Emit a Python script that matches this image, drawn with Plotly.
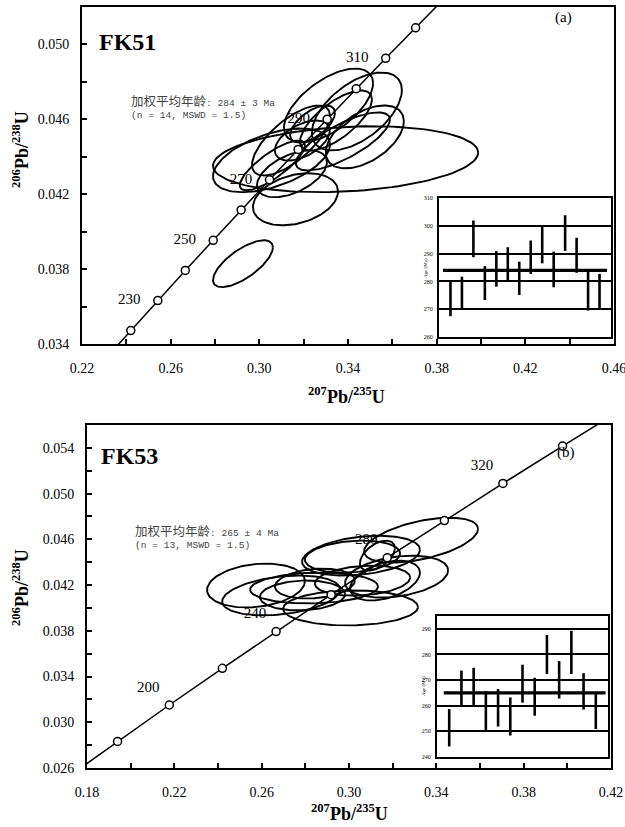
import numpy as np
import plotly.graph_objects as go

# ---------------- data: panel (a) FK51 ----------------
conc_a_age = [210, 220, 230, 240, 250, 260, 270, 280, 290, 300, 310, 320, 330]
conc_a_x = [0.2298, 0.2420, 0.2542, 0.2666, 0.2792, 0.2918, 0.3046, 0.3175, 0.3306, 0.3437, 0.3570, 0.3705, 0.3840]
conc_a_y = [0.03311, 0.03472, 0.03632, 0.03793, 0.03954, 0.04116, 0.04277, 0.04439, 0.04601, 0.04764, 0.04926, 0.05089, 0.05252]
conc_a_marked = [220, 230, 240, 250, 260, 270, 280, 290, 300, 310, 320]
conc_a_labels = [230, 250, 270, 290, 310]
xticks_a = [0.22, 0.26, 0.30, 0.34, 0.38, 0.42, 0.46]
yticks_a = [0.034, 0.038, 0.042, 0.046, 0.050]

ell_a_cx = [0.3389, 0.3312, 0.3440, 0.3476, 0.3346, 0.3240, 0.3143, 0.3055, 0.3147, 0.3163, 0.2926, 0.3059, 0.3377, 0.3194]
ell_a_cy = [0.04387, 0.04674, 0.04642, 0.04506, 0.04594, 0.04575, 0.04487, 0.04381, 0.04309, 0.04173, 0.03829, 0.04354, 0.04482, 0.04487]
ell_a_sx = [0.0598, 0.0201, 0.0203, 0.0176, 0.0162, 0.0101, 0.0176, 0.0264, 0.0158, 0.0192, 0.0135, 0.0147, 0.0212, 0.0124]
ell_a_sy = [0.00176, 0.00197, 0.00208, 0.00168, 0.00160, 0.00099, 0.00187, 0.00170, 0.00125, 0.00139, 0.00125, 0.00133, 0.00155, 0.00107]
ell_a_rho = [0.2, 0.6, 0.55, 0.5, 0.7, 0.6, 0.7, 0.5, 0.5, 0.3, 0.7, 0.8, 0.75, 0.5]

inset_a_age = [274.0, 275.9, 295.3, 279.4, 284.5, 286.3, 281.1, 288.7, 293.1, 284.3, 297.4, 289.4, 276.8, 276.5]
inset_a_err = [6.5, 5.8, 6.6, 6.1, 6.4, 6.0, 6.0, 6.0, 6.6, 6.4, 6.4, 6.3, 7.3, 6.2]
mean_a = 284
inset_a_ticks = [260, 270, 280, 290, 300, 310]

# ---------------- data: panel (b) FK53 ----------------
conc_b_age = [160, 180, 200, 220, 240, 260, 280, 300, 320, 340, 360]
conc_b_x = [0.1707, 0.1940, 0.2177, 0.2420, 0.2666, 0.2918, 0.3175, 0.3437, 0.3705, 0.3978, 0.4256]
conc_b_y = [0.02513, 0.02832, 0.03151, 0.03472, 0.03793, 0.04116, 0.04439, 0.04764, 0.05089, 0.05416, 0.05743]
conc_b_marked = [180, 200, 220, 240, 260, 280, 300, 320, 340]
conc_b_labels = [200, 240, 280, 320]
xticks_b = [0.18, 0.22, 0.26, 0.30, 0.34, 0.38, 0.42]
yticks_b = [0.026, 0.030, 0.034, 0.038, 0.042, 0.046, 0.050, 0.054]

ell_b_cx = [0.3330, 0.3055, 0.3016, 0.3218, 0.3165, 0.2840, 0.2844, 0.2574, 0.2689, 0.3007, 0.2787, 0.3062, 0.3130]
ell_b_cy = [0.04593, 0.04457, 0.04449, 0.04274, 0.04239, 0.04174, 0.04213, 0.04196, 0.04109, 0.04000, 0.04109, 0.04239, 0.04457]
ell_b_sx = [0.0261, 0.0270, 0.0218, 0.0236, 0.0160, 0.0293, 0.0183, 0.0224, 0.0270, 0.0309, 0.0195, 0.0218, 0.0080]
ell_b_sy = [0.00196, 0.00174, 0.00140, 0.00183, 0.00174, 0.00135, 0.00131, 0.00192, 0.00174, 0.00153, 0.00131, 0.00131, 0.00131]
ell_b_rho = [0.5, 0.3, 0.2, 0.3, 0.4, 0.1, 0.2, 0.2, 0.3, 0.05, 0.1, 0.2, 0.5]

inset_b_age = [251.4, 266.6, 267.3, 257.8, 259.2, 255.8, 268.6, 263.5, 280.0, 270.1, 280.8, 265.6, 257.7]
inset_b_err = [7.3, 7.1, 7.5, 7.9, 7.3, 7.4, 7.4, 7.4, 7.6, 7.3, 8.4, 7.1, 6.8]
mean_b = 265
inset_b_ticks = [240, 250, 260, 270, 280, 290]

SERIF = "Liberation Serif"
W, H = 625, 827


def px(x):
    return x / W


def py(y):
    return 1 - y / H


def ellipse_path(cx, cy, sx, sy, rho):
    t = np.linspace(0, 2 * np.pi, 120)
    xs, ys = [], []
    for a, b, c, d, r in zip(cx, cy, sx, sy, rho):
        xs += list(a + c * np.cos(t)) + [None]
        ys += list(b + d * (r * np.cos(t) + np.sqrt(1 - r * r) * np.sin(t))) + [None]
    return xs, ys


fig = go.Figure()


def add_panel(cx, cy, sx, sy, rho, cage, cxv, cyv, marked, labels, xa, ya, tpos, gap):
    ex, ey = ellipse_path(cx, cy, sx, sy, rho)
    fig.add_trace(go.Scatter(x=ex, y=ey, mode="lines", line=dict(color="black", width=1.9),
                             xaxis=xa, yaxis=ya, hoverinfo="skip"))
    fig.add_trace(go.Scatter(x=cxv, y=cyv, mode="lines", line=dict(color="black", width=1.5),
                             xaxis=xa, yaxis=ya, hoverinfo="skip"))
    mx = [x for a, x in zip(cage, cxv) if a in marked]
    my = [y for a, y in zip(cage, cyv) if a in marked]
    fig.add_trace(go.Scatter(x=mx, y=my, mode="markers",
                             marker=dict(symbol="circle", size=8, color="white",
                                         line=dict(color="black", width=1.5)),
                             xaxis=xa, yaxis=ya, cliponaxis=True, hoverinfo="skip"))
    lx = [x for a, x in zip(cage, cxv) if a in labels]
    ly = [y for a, y in zip(cage, cyv) if a in labels]
    lt = [str(a) for a in cage if a in labels]
    fig.add_trace(go.Scatter(x=lx, y=ly, mode="markers+text", text=lt, textposition=tpos,
                             textfont=dict(family=SERIF, size=15, color="black"),
                             marker=dict(size=gap, color="rgba(0,0,0,0)", line=dict(width=0)),
                             xaxis=xa, yaxis=ya, cliponaxis=False, hoverinfo="skip"))


add_panel(ell_a_cx, ell_a_cy, ell_a_sx, ell_a_sy, ell_a_rho, conc_a_age, conc_a_x, conc_a_y,
          conc_a_marked, conc_a_labels, "x", "y", "middle left", 26)
add_panel(ell_b_cx, ell_b_cy, ell_b_sx, ell_b_sy, ell_b_rho, conc_b_age, conc_b_x, conc_b_y,
          conc_b_marked, conc_b_labels, "x2", "y2", "top left", 14)


def add_inset(ages, errs, mean, xa, ya, x0, x1):
    idx = list(range(1, len(ages) + 1))
    fig.add_trace(go.Scatter(x=[x0, x1], y=[mean, mean], mode="lines",
                             line=dict(color="black", width=3.2), xaxis=xa, yaxis=ya, hoverinfo="skip"))
    fig.add_trace(go.Scatter(x=idx, y=ages, mode="markers",
                             marker=dict(size=1, color="rgba(0,0,0,0)"),
                             error_y=dict(type="data", array=errs, symmetric=True, width=0,
                                          thickness=2.6, color="black"),
                             xaxis=xa, yaxis=ya, hoverinfo="skip"))


add_inset(inset_a_age, inset_a_err, mean_a, "x3", "y3", 0.35, 14.65)
add_inset(inset_b_age, inset_b_err, mean_b, "x4", "y4", 0.55, 13.8)

main_ax = dict(showline=True, linecolor="black", linewidth=2, mirror=True, ticks="inside",
               ticklen=5, tickwidth=1.5, tickcolor="black", showgrid=False, zeroline=False,
               automargin=False, ticklabeloverflow="allow",
               tickfont=dict(family=SERIF, size=14, color="black"))

fig.update_layout(
    template="none",
    width=W, height=H, margin=dict(l=0, r=0, t=0, b=0, pad=0), showlegend=False,
    paper_bgcolor="white", plot_bgcolor="white",
    xaxis=dict(main_ax, domain=[px(82), px(614)], range=[0.22, 0.46], tickvals=xticks_a,
               ticktext=["%.2f" % v for v in xticks_a], anchor="y", ticklabelstandoff=10,
               minor=dict(ticks="inside", tick0=0.22, dtick=0.02, ticklen=5, tickwidth=1.5, tickcolor="black")),
    yaxis=dict(main_ax, domain=[py(344), py(7)], range=[0.034, 0.052], tickvals=yticks_a,
               ticktext=["%.3f" % v for v in yticks_a], anchor="x", ticklabelstandoff=8,
               minor=dict(ticks="inside", tick0=0.034, dtick=0.002, ticklen=5, tickwidth=1.5, tickcolor="black")),
    xaxis2=dict(main_ax, domain=[px(87), px(611)], range=[0.18, 0.42], tickvals=xticks_b,
                ticktext=["%.2f" % v for v in xticks_b], anchor="y2", ticklabelstandoff=10,
                minor=dict(ticks="inside", tick0=0.18, dtick=0.02, ticklen=5, tickwidth=1.5, tickcolor="black")),
    yaxis2=dict(main_ax, domain=[py(768), py(425)], range=[0.026, 0.056], tickvals=yticks_b,
                ticktext=["%.3f" % v for v in yticks_b], anchor="x2", ticklabelstandoff=8,
                minor=dict(ticks="inside", tick0=0.026, dtick=0.002, ticklen=5, tickwidth=1.5, tickcolor="black")),
)

inset_x = dict(showline=True, linecolor="black", linewidth=2, mirror=True, ticks="",
               showticklabels=False, showgrid=False, zeroline=False, automargin=False)
inset_y = dict(showline=True, linecolor="black", linewidth=2, mirror=True, ticks="",
               showgrid=True, gridcolor="black", gridwidth=1.6, zeroline=False, automargin=False,
               tickfont=dict(family=SERIF, size=6, color="black"), ticklabelstandoff=3)

fig.update_layout(
    xaxis3=dict(inset_x, domain=[px(439), px(611)], range=[0, 15], anchor="y3"),
    yaxis3=dict(inset_y, domain=[py(337), py(198)], range=[260, 310], tickvals=inset_a_ticks, anchor="x3"),
    xaxis4=dict(inset_x, domain=[px(437), px(608)], range=[0, 14], anchor="y4"),
    yaxis4=dict(inset_y, domain=[py(757), py(616)], range=[240, 295], tickvals=inset_b_ticks, anchor="x4"),
)

ann = []


def A(text, x, y, size, xanchor="center", yanchor="middle", angle=0, family=SERIF, color="black", align="left"):
    ann.append(dict(text=text, x=px(x), y=py(y), xref="paper", yref="paper", showarrow=False,
                    xanchor=xanchor, yanchor=yanchor, textangle=angle, align=align,
                    font=dict(family=family, size=size, color=color)))


A("<b>FK51</b>", 97, 42, 24, xanchor="left")
A("<b>FK53</b>", 99, 456, 24, xanchor="left")
A("(a)", 563, 18, 15)
A("(b)", 566, 452, 15)

MONO = "Liberation Mono, Noto Sans CJK SC"
A("<span style='font-size:12.5px'>加权平均年龄</span>: %d ± 3 Ma<br>(n = 14, MSWD = 1.5)" % mean_a,
  129, 92, 9.6, xanchor="left", yanchor="top", family=MONO, color="#444")
A("<span style='font-size:12.5px'>加权平均年龄</span>: %d ± 4 Ma<br>(n = 13, MSWD = 1.5)" % mean_b,
  133, 522, 9.6, xanchor="left", yanchor="top", family=MONO, color="#444")

xt = "<b><sup>207</sup>Pb/<sup>235</sup>U</b>"
yt = "<b><sup>206</sup>Pb/<sup>238</sup>U</b>"
A(xt, 346, 395, 18)
A(xt, 349, 812, 18)
A(yt, 20, 150, 18, angle=-90)
A(yt, 20, 588, 18, angle=-90)
A("Age (Ma)", 425, 268, 5, angle=-90)
A("Age (Ma)", 423, 686, 5, angle=-90)

fig.update_layout(annotations=ann)
fig.write_html("out.html", config={"displayModeBar": False},
               post_script="document.body.style.margin='0px';document.body.style.padding='0px';")
